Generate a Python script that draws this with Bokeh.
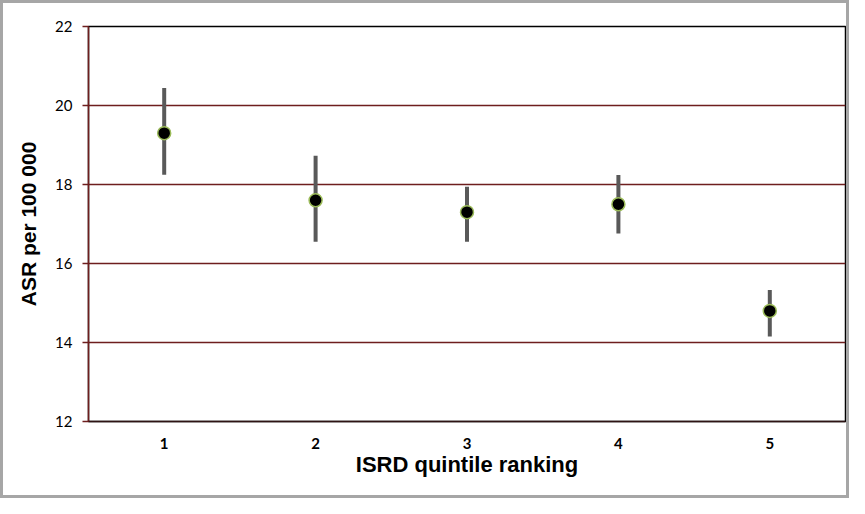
from bokeh.plotting import figure
from bokeh.models import ColumnDataSource, Range1d, FixedTicker
from bokeh.embed import file_html
from bokeh.resources import INLINE

categories = ["1", "2", "3", "4", "5"]
asr = [19.3, 17.6, 17.3, 17.5, 14.8]
ci_low = [18.25, 16.55, 16.55, 16.76, 14.15]
ci_high = [20.44, 18.73, 17.94, 18.24, 15.33]
y_ticks = [12, 14, 16, 18, 20, 22]

src = ColumnDataSource(dict(x=categories, y=asr, lo=ci_low, hi=ci_high))

p = figure(width=849, height=498, x_range=categories, y_range=Range1d(12, 22),
           output_backend="svg", toolbar_location=None,
           min_border_left=85, min_border_top=23, min_border_bottom=80, min_border_right=7)
p.styles = {"border": "3px solid #a6a6a6", "box-sizing": "border-box"}
p.outline_line_color = "black"
p.outline_line_width = 1.5

p.segment(x0="x", x1="x", y0="lo", y1="hi", source=src, line_color="#595959", line_width=4)
p.scatter(x="x", y="y", source=src, size=13, fill_color="black",
          line_color="#9bbb59", line_width=1.5)

grid_red = "#6e1e1e"
p.xgrid.grid_line_color = None
p.ygrid.grid_line_color = grid_red
p.ygrid.grid_line_width = 1.5
p.yaxis.ticker = FixedTicker(ticks=y_ticks)
p.yaxis.minor_tick_line_color = None
p.yaxis.major_tick_out = 6
p.yaxis.major_tick_in = 0
p.yaxis.major_tick_line_color = grid_red
p.yaxis.major_tick_line_width = 1.5
p.yaxis.axis_line_color = grid_red
p.yaxis.axis_line_width = 1.5
p.yaxis.major_label_text_font = "Lato"
p.yaxis.major_label_text_font_size = "15px"
p.yaxis.major_label_text_color = "black"
p.yaxis.major_label_standoff = 10
p.yaxis.axis_label = "ASR per 100 000"
p.yaxis.axis_label_text_font = "Liberation Sans"
p.yaxis.axis_label_text_font_style = "bold"
p.yaxis.axis_label_text_font_size = "21px"
p.yaxis.axis_label_text_color = "black"
p.yaxis.axis_label_standoff = 12

p.xaxis.axis_line_color = "#2e1414"
p.xaxis.axis_line_width = 1.5
p.xaxis.major_tick_line_color = None
p.xaxis.minor_tick_line_color = None
p.xaxis.major_label_text_font = "Lato"
p.xaxis.major_label_text_font_style = "bold"
p.xaxis.major_label_text_font_size = "15px"
p.xaxis.major_label_text_color = "black"
p.xaxis.major_label_standoff = 10
p.xaxis.axis_label = "ISRD quintile ranking"
p.xaxis.axis_label_text_font = "Liberation Sans"
p.xaxis.axis_label_text_font_style = "bold"
p.xaxis.axis_label_text_font_size = "22px"
p.xaxis.axis_label_text_color = "black"
p.xaxis.axis_label_standoff = 0

open("out.html", "w").write(file_html(p, INLINE))
